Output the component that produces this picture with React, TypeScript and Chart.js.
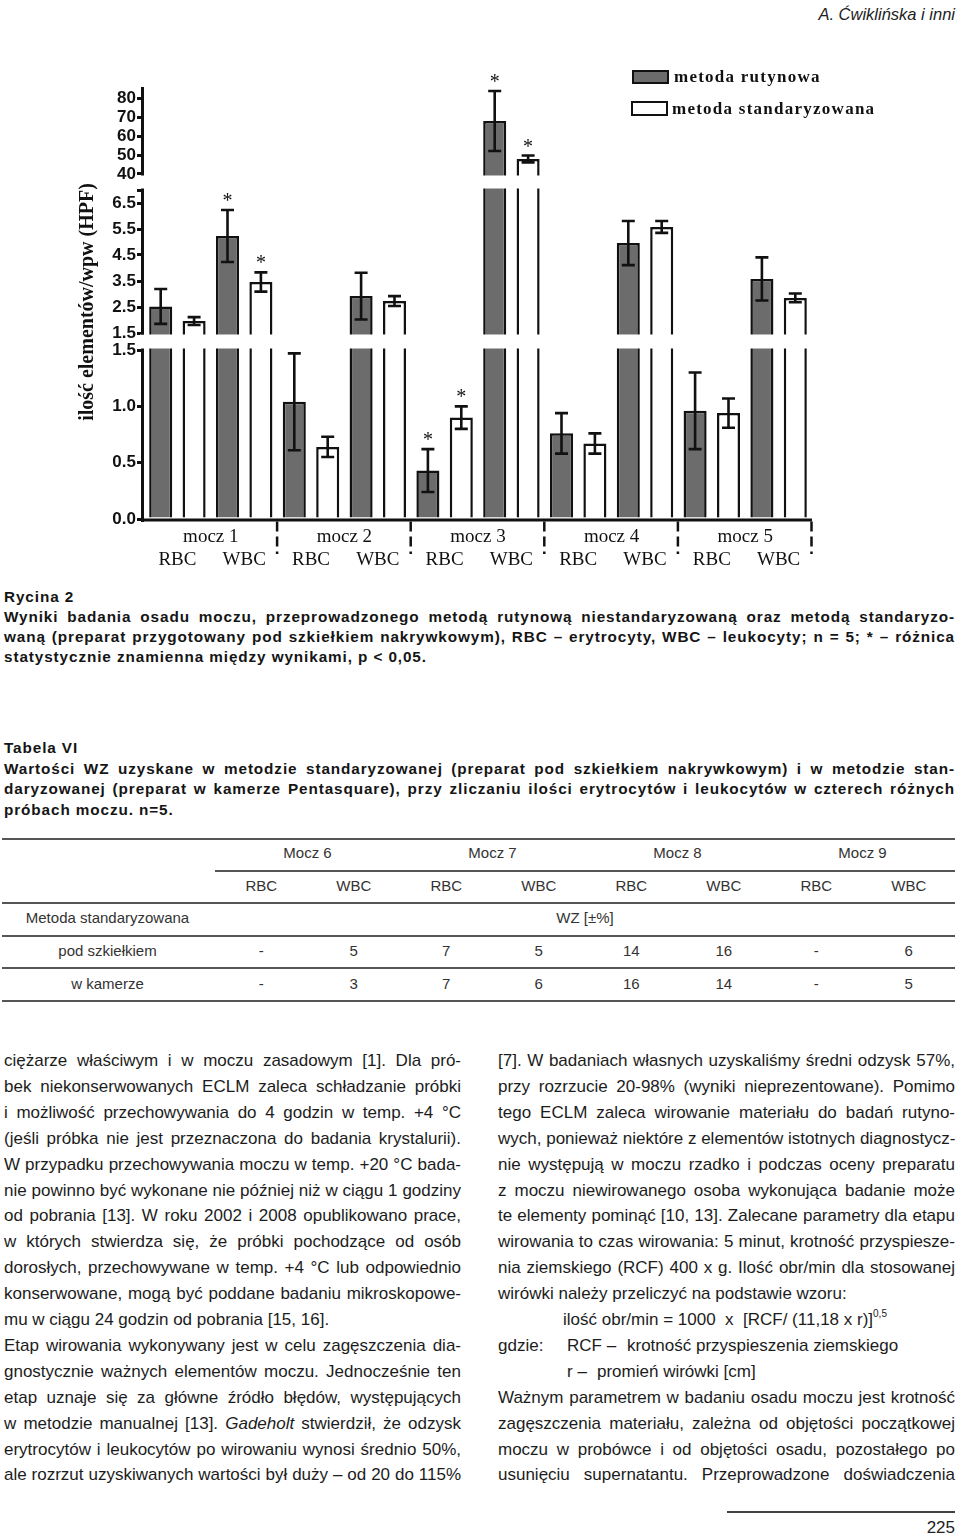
import React, { useEffect, useRef } from 'react';
import { Chart, registerables } from 'chart.js';

Chart.register(...registerables);

// ---------------- chart data ----------------
const SAMPLES = ['mocz 1', 'mocz 2', 'mocz 3', 'mocz 4', 'mocz 5'];
const CELL_TYPES = ['RBC', 'WBC', 'RBC', 'WBC', 'RBC', 'WBC', 'RBC', 'WBC', 'RBC', 'WBC'];
const SERIES_NAMES = ['metoda rutynowa', 'metoda standaryzowana'];
const ROUTINE_MEAN = [2.52, 5.23, 1.04, 2.92, 0.43, 67.9, 0.76, 4.96, 0.96, 3.58];
const ROUTINE_ERR = [0.67, 1.0, 0.43, 0.9, 0.19, 15.8, 0.18, 0.85, 0.34, 0.83];
const STANDARD_MEAN = [1.96, 3.46, 0.64, 2.73, 0.9, 47.9, 0.67, 5.58, 0.94, 2.85];
const STANDARD_ERR = [0.15, 0.37, 0.09, 0.19, 0.1, 1.8, 0.09, 0.23, 0.13, 0.17];
const ROUTINE_SIGNIFICANT = [false, true, false, false, true, true, false, false, false, false];
const STANDARD_SIGNIFICANT = [false, true, false, false, true, true, false, false, false, false];
const Y_SEGMENTS = [[0, 1.5], [1.5, 7], [40, 85.8]];
const Y_TICKS = [[0, 0.5, 1, 1.5], [1.5, 2.5, 3.5, 4.5, 5.5, 6.5, 7], [40, 50, 60, 70, 80]];
const Y_TICK_LABELS = [
  ['0.0', '0.5', '1.0', '1.5'],
  ['1.5', '2.5', '3.5', '4.5', '5.5', '6.5', ''],
  ['40', '50', '60', '70', '80'],
];
const Y_TITLE = 'ilość elementów/wpw (HPF)';
const SIGNIFICANCE_MARK = '*';

// ---------------- table data ----------------
const TABLE_SAMPLES = ['Mocz 6', 'Mocz 7', 'Mocz 8', 'Mocz 9'];
const TABLE_CELL_TYPES = ['RBC', 'WBC'];
const TABLE_METHOD_LABEL = 'Metoda standaryzowana';
const TABLE_UNIT_LABEL = 'WZ [±%]';
const TABLE_ROW_LABELS = ['pod szkiełkiem', 'w kamerze'];
const TABLE_VALUES = [
  ['-', '5', '7', '5', '14', '16', '-', '6'],
  ['-', '3', '7', '6', '16', '14', '-', '5'],
];

// ---------------- text ----------------
const HEADER = 'A. Ćwiklińska i inni';
const FIGURE_TITLE = 'Rycina 2';
const FIGURE_LINES: [string, boolean][] = [
  ['Wyniki badania osadu moczu, przeprowadzonego metodą rutynową niestandaryzowaną oraz metodą standaryzo-', true],
  ['waną (preparat przygotowany pod szkiełkiem nakrywkowym), RBC – erytrocyty, WBC – leukocyty; n = 5; * – różnica', true],
  ['statystycznie znamienna między wynikami, p < 0,05.', false],
];
const TABLE_TITLE = 'Tabela VI';
const TABLE_LINES: [string, boolean][] = [
  ['Wartości WZ uzyskane w metodzie standaryzowanej (preparat pod szkiełkiem nakrywkowym) i w metodzie stan-', true],
  ['daryzowanej (preparat w kamerze Pentasquare), przy zliczaniu ilości erytrocytów i leukocytów w czterech różnych', true],
  ['próbach moczu. n=5.', false],
];
const LEFT_COLUMN: [string, boolean][] = [
  ['ciężarze właściwym i w moczu zasadowym [1]. Dla pró-', true],
  ['bek niekonserwowanych ECLM zaleca schładzanie próbki', true],
  ['i możliwość przechowywania do 4 godzin w temp. +4 °C', true],
  ['(jeśli próbka nie jest przeznaczona do badania krystalurii).', true],
  ['W przypadku przechowywania moczu w temp. +20 °C bada-', true],
  ['nie powinno być wykonane nie później niż w ciągu 1 godziny', true],
  ['od pobrania [13]. W roku 2002 i 2008 opublikowano prace,', true],
  ['w których stwierdza się, że próbki pochodzące od osób', true],
  ['dorosłych, przechowywane w temp. +4 °C lub odpowiednio', true],
  ['konserwowane, mogą być poddane badaniu mikroskopowe-', true],
  ['mu w ciągu 24 godzin od pobrania [15, 16].', false],
  ['Etap wirowania wykonywany jest w celu zagęszczenia dia-', true],
  ['gnostycznie ważnych elementów moczu. Jednocześnie ten', true],
  ['etap uznaje się za główne źródło błędów, występujących', true],
  ['w metodzie manualnej [13]. _Gadeholt_ stwierdził, że odzysk', true],
  ['erytrocytów i leukocytów po wirowaniu wynosi średnio 50%,', true],
  ['ale rozrzut uzyskiwanych wartości był duży – od 20 do 115%', true],
];
const RIGHT_COLUMN_TOP: [string, boolean][] = [
  ['[7]. W badaniach własnych uzyskaliśmy średni odzysk 57%,', true],
  ['przy rozrzucie 20-98% (wyniki nieprezentowane). Pomimo', true],
  ['tego ECLM zaleca wirowanie materiału do badań rutyno-', true],
  ['wych, ponieważ niektóre z elementów istotnych diagnostycz-', true],
  ['nie występują w moczu rzadko i podczas oceny preparatu', true],
  ['z moczu niewirowanego osoba wykonująca badanie może', true],
  ['te elementy pominąć [10, 13]. Zalecane parametry dla etapu', true],
  ['wirowania to czas wirowania: 5 minut, krotność przyspiesze-', true],
  ['nia ziemskiego (RCF) 400 x g. Ilość obr/min dla stosowanej', true],
  ['wirówki należy przeliczyć na podstawie wzoru:', false],
];
const FORMULA = 'ilość obr/min = 1000  x  [RCF/ (11,18 x r)]';
const FORMULA_EXP = '0,5';
const WHERE_LABEL = 'gdzie:';
const WHERE_ITEMS: [string, string][] = [
  ['RCF –', 'krotność przyspieszenia ziemskiego'],
  ['r –', 'promień wirówki [cm]'],
];
const RIGHT_COLUMN_BOTTOM: [string, boolean][] = [
  ['Ważnym parametrem w badaniu osadu moczu jest krotność', true],
  ['zagęszczenia materiału, zależna od objętości początkowej', true],
  ['moczu w probówce i od objętości osadu, pozostałego po', true],
  ['usunięciu supernatantu. Przeprowadzone doświadczenia', true],
];
const PAGE_NUMBER = '225';

// ---------------- layout (pixels) ----------------
const SANS = '"Liberation Sans", Arial, Helvetica, sans-serif';
const SERIF = '"Liberation Serif", "Times New Roman", serif';
const SEGMENT_SPANS = [[0, 169], [186, 329], [345, 432]];
const AXIS_MAX = 432;

const toAxis = (v: number, seg?: number) => {
  let i = seg;
  if (i === undefined) {
    i = Y_SEGMENTS.findIndex(([, hi]) => v <= hi);
    if (i < 0) i = Y_SEGMENTS.length - 1;
  }
  const [lo, hi] = Y_SEGMENTS[i];
  const [a, b] = SEGMENT_SPANS[i];
  return a + ((v - lo) / (hi - lo)) * (b - a);
};
const Y_TICK_POS = Y_TICKS.flatMap((ts, i) => ts.map((t) => toAxis(t, i)));
const Y_TICK_TEXT = Y_TICK_LABELS.flat();

const overlayPlugin = {
  id: 'brokenAxisOverlay',
  afterDatasetsDraw(chart: any) {
    const { ctx, chartArea, scales } = chart;
    const { left, right, bottom } = chartArea;
    const y = scales.y;
    ctx.save();
    // breaks in the axis and bars
    ctx.fillStyle = '#ffffff';
    for (let i = 0; i < SEGMENT_SPANS.length - 1; i++) {
      const yLow = y.getPixelForValue(SEGMENT_SPANS[i][1]);
      const yHigh = y.getPixelForValue(SEGMENT_SPANS[i + 1][0]);
      ctx.fillRect(left - 4, yHigh + 1.5, right - left + 8, yLow - yHigh - 3);
    }
    // y axis segments
    ctx.strokeStyle = '#111';
    ctx.lineWidth = 3;
    ctx.lineCap = 'butt';
    const ax = left - 1.5;
    SEGMENT_SPANS.forEach(([a, b]) => {
      ctx.beginPath();
      ctx.moveTo(ax, y.getPixelForValue(a) + (a === 0 ? 3 : 1.5));
      ctx.lineTo(ax, y.getPixelForValue(b) - (b === AXIS_MAX ? 0 : 1.5));
      ctx.stroke();
    });
    // x axis
    ctx.beginPath();
    ctx.moveTo(left - 3, bottom + 1);
    ctx.lineTo(right, bottom + 1);
    ctx.stroke();
    // error bars + significance
    const series = [
      { mean: ROUTINE_MEAN, err: ROUTINE_ERR, sig: ROUTINE_SIGNIFICANT },
      { mean: STANDARD_MEAN, err: STANDARD_ERR, sig: STANDARD_SIGNIFICANT },
    ];
    series.forEach((s, di) => {
      const meta = chart.getDatasetMeta(di);
      meta.data.forEach((bar: any, i: number) => {
        const cx = bar.x;
        const yHi = y.getPixelForValue(toAxis(s.mean[i] + s.err[i]));
        const yLo = y.getPixelForValue(toAxis(s.mean[i] - s.err[i]));
        ctx.strokeStyle = '#111';
        ctx.lineWidth = 2.6;
        ctx.beginPath();
        ctx.moveTo(cx, yHi);
        ctx.lineTo(cx, yLo);
        ctx.moveTo(cx - 6.5, yHi);
        ctx.lineTo(cx + 6.5, yHi);
        ctx.moveTo(cx - 6.5, yLo);
        ctx.lineTo(cx + 6.5, yLo);
        ctx.stroke();
        if (s.sig[i]) {
          ctx.fillStyle = '#111';
          ctx.font = `20px ${SERIF}`;
          ctx.textAlign = 'center';
          ctx.textBaseline = 'alphabetic';
          ctx.fillText(SIGNIFICANCE_MARK, cx, yHi - 3);
        }
      });
    });
    // dashed group separators
    const catW = (right - left) / CELL_TYPES.length;
    const perGroup = CELL_TYPES.length / SAMPLES.length;
    ctx.setLineDash([10, 5]);
    ctx.lineWidth = 2.5;
    for (let k = 1; k <= SAMPLES.length; k++) {
      const sx = left + k * perGroup * catW - 0.5;
      ctx.beginPath();
      ctx.moveTo(sx, bottom + 2.5);
      ctx.lineTo(sx, bottom + 35);
      ctx.stroke();
    }
    ctx.setLineDash([]);
    // y axis title
    ctx.translate(93, 302);
    ctx.rotate(-Math.PI / 2);
    ctx.fillStyle = '#111';
    ctx.font = `bold 20px ${SERIF}`;
    ctx.textAlign = 'center';
    ctx.textBaseline = 'alphabetic';
    ctx.fillText(Y_TITLE, 0, 0);
    ctx.restore();
  },
};

function BarChart() {
  const ref = useRef<HTMLCanvasElement>(null);
  useEffect(() => {
    const chart = new Chart(ref.current as HTMLCanvasElement, {
      type: 'bar',
      data: {
        labels: CELL_TYPES,
        datasets: [
          {
            label: SERIES_NAMES[0],
            data: ROUTINE_MEAN.map((v) => toAxis(v)),
            backgroundColor: '#6c6c6c',
            borderColor: '#111',
            borderWidth: 2.5,
            borderSkipped: 'start',
            categoryPercentage: 1,
            barPercentage: 0.69,
          },
          {
            label: SERIES_NAMES[1],
            data: STANDARD_MEAN.map((v) => toAxis(v)),
            backgroundColor: '#ffffff',
            borderColor: '#111',
            borderWidth: 2.5,
            borderSkipped: 'start',
            categoryPercentage: 1,
            barPercentage: 0.69,
          },
        ],
      },
      options: {
        responsive: false,
        animation: false,
        events: [],
        layout: { padding: { left: 0, right: 148, top: 87, bottom: 0 } },
        plugins: { legend: { display: false }, tooltip: { enabled: false } },
        scales: {
          x: {
            type: 'category',
            position: 'bottom',
            weight: 1,
            grid: { display: false, drawTicks: false },
            border: { display: false },
            ticks: {
              autoSkip: false,
              maxRotation: 0,
              padding: 1,
              color: '#111',
              font: { family: SERIF, size: 19 },
            },
            afterFit: (s: any) => {
              s.height = 32;
            },
          },
          x2: {
            type: 'category',
            labels: SAMPLES,
            position: 'bottom',
            offset: true,
            weight: 0,
            grid: { display: false, drawTicks: false },
            border: { display: false },
            ticks: {
              autoSkip: false,
              maxRotation: 0,
              padding: 7,
              color: '#111',
              font: { family: SERIF, size: 19 },
            },
            afterFit: (s: any) => {
              s.height = 29;
            },
          },
          y: {
            type: 'linear',
            position: 'left',
            min: 0,
            max: AXIS_MAX,
            afterFit: (s: any) => {
              s.width = 144;
            },
            afterBuildTicks: (s: any) => {
              s.ticks = Y_TICK_POS.map((v) => ({ value: v }));
            },
            grid: {
              display: true,
              drawOnChartArea: false,
              drawTicks: true,
              tickLength: 7,
              lineWidth: 3,
              color: '#111',
            },
            border: { display: false },
            ticks: {
              autoSkip: false,
              padding: 1,
              color: '#111',
              font: { family: SANS, size: 17, weight: 'bold' },
              callback: (_v: any, i: number) => Y_TICK_TEXT[i],
            },
          },
        },
      },
      plugins: [overlayPlugin],
    } as any);
    return () => chart.destroy();
  }, []);
  return (
    <canvas
      ref={ref}
      width={960}
      height={580}
      style={{ position: 'absolute', left: 0, top: 0, width: 960, height: 580 }}
    />
  );
}

function Line(props: {
  x: number;
  cy: number;
  w?: number;
  justify?: boolean;
  align?: 'left' | 'center' | 'right';
  style?: React.CSSProperties;
  children: React.ReactNode;
}) {
  const { x, cy, w, justify, align, style, children } = props;
  const a = justify ? 'justify' : align || 'left';
  return (
    <div
      style={{
        position: 'absolute',
        left: x,
        top: cy - 10,
        width: w,
        height: 20,
        lineHeight: '20px',
        whiteSpace: 'nowrap',
        textAlign: a,
        textAlignLast: a,
        ...style,
      } as React.CSSProperties}
    >
      {children}
    </div>
  );
}

const renderItalic = (text: string) =>
  text.split('_').map((part, i) => (i % 2 === 1 ? <i key={i}>{part}</i> : <span key={i}>{part}</span>));

export default function App() {
  const capStyle: React.CSSProperties = {
    fontFamily: SANS,
    fontWeight: 'bold',
    fontSize: 15.3,
    letterSpacing: '0.9px',
    color: '#151515',
  };
  const bodyStyle: React.CSSProperties = { fontFamily: SANS, fontSize: 17, color: '#1c1c1c' };
  const tableStyle: React.CSSProperties = { fontFamily: SANS, fontSize: 15, color: '#333' };
  const lineY = (i: number) => 1061 + i * 25.9;
  const colX = (j: number) => 215 + j * 92.5;
  const rule = (y: number, x1: number, x2: number, h = 1.6) => (
    <div key={`r${y}`} style={{ position: 'absolute', left: x1, top: y, width: x2 - x1, height: h, background: '#555' }} />
  );
  const legendText: React.CSSProperties = {
    position: 'absolute',
    fontFamily: SERIF,
    fontWeight: 'bold',
    fontSize: 17,
    letterSpacing: '1.25px',
    lineHeight: '20px',
    color: '#111',
    whiteSpace: 'nowrap',
  };
  return (
    <div
      style={{
        position: 'absolute',
        left: 0,
        top: 0,
        width: 960,
        height: 1536,
        background: '#fff',
        overflow: 'hidden',
      }}
    >
      <div
        style={{
          position: 'absolute',
          right: 5,
          top: 4,
          fontFamily: SANS,
          fontStyle: 'italic',
          fontSize: 16.5,
          lineHeight: '20px',
          color: '#222',
        }}
      >
        {HEADER}
      </div>

      <BarChart />

      {/* legend */}
      <div style={{ position: 'absolute', left: 632, top: 70, width: 37, height: 14, background: '#6c6c6c', border: '2.5px solid #111', boxSizing: 'border-box' }} />
      <div style={{ ...legendText, left: 674, top: 67 }}>{SERIES_NAMES[0]}</div>
      <div style={{ position: 'absolute', left: 631, top: 101, width: 37, height: 15, background: '#fff', border: '2.5px solid #111', boxSizing: 'border-box' }} />
      <div style={{ ...legendText, left: 672, top: 99 }}>{SERIES_NAMES[1]}</div>

      {/* figure caption */}
      <Line x={4} cy={597} style={capStyle}>{FIGURE_TITLE}</Line>
      {FIGURE_LINES.map(([t, j], i) => (
        <Line key={`f${i}`} x={4} cy={617 + i * 20} w={951} justify={j} style={capStyle}>
          {t}
        </Line>
      ))}

      {/* table caption */}
      <Line x={4} cy={748} style={capStyle}>{TABLE_TITLE}</Line>
      {TABLE_LINES.map(([t, j], i) => (
        <Line key={`t${i}`} x={4} cy={768.5 + i * 20.7} w={951} justify={j} style={capStyle}>
          {t}
        </Line>
      ))}

      {/* table */}
      {rule(838, 2, 955, 2)}
      {rule(870, 215, 955)}
      {rule(902, 2, 955)}
      {rule(935, 2, 955)}
      {rule(967, 2, 955)}
      {rule(1000, 2, 955, 2)}
      {TABLE_SAMPLES.map((s, k) => (
        <Line key={`ts${k}`} x={colX(2 * k)} cy={853} w={185} align="center" style={tableStyle}>
          {s}
        </Line>
      ))}
      {TABLE_SAMPLES.flatMap((_, k) =>
        TABLE_CELL_TYPES.map((c, m) => (
          <Line key={`tc${k}${m}`} x={colX(2 * k + m)} cy={886} w={92.5} align="center" style={tableStyle}>
            {c}
          </Line>
        )),
      )}
      <Line x={0} cy={918} w={215} align="center" style={tableStyle}>{TABLE_METHOD_LABEL}</Line>
      <Line x={215} cy={918} w={740} align="center" style={tableStyle}>{TABLE_UNIT_LABEL}</Line>
      {TABLE_ROW_LABELS.map((label, r) => (
        <React.Fragment key={`tr${r}`}>
          <Line x={0} cy={951 + r * 33} w={215} align="center" style={tableStyle}>{label}</Line>
          {TABLE_VALUES[r].map((v, j) => (
            <Line key={`tv${r}${j}`} x={colX(j)} cy={951 + r * 33} w={92.5} align="center" style={tableStyle}>
              {v}
            </Line>
          ))}
        </React.Fragment>
      ))}

      {/* left column */}
      {LEFT_COLUMN.map(([t, j], i) => (
        <Line key={`l${i}`} x={4} cy={lineY(i)} w={457} justify={j} style={bodyStyle}>
          {renderItalic(t)}
        </Line>
      ))}

      {/* right column */}
      {RIGHT_COLUMN_TOP.map(([t, j], i) => (
        <Line key={`rt${i}`} x={498} cy={lineY(i)} w={457} justify={j} style={bodyStyle}>
          {t}
        </Line>
      ))}
      <Line x={563} cy={lineY(10)} style={{ ...bodyStyle, whiteSpace: 'pre' }}>
        {FORMULA}
        <sup style={{ fontSize: 10, verticalAlign: 'top', lineHeight: '12px', position: 'relative', top: -2 }}>{FORMULA_EXP}</sup>
      </Line>
      <Line x={498} cy={lineY(11)} style={bodyStyle}>{WHERE_LABEL}</Line>
      {WHERE_ITEMS.map(([a, b], i) => (
        <React.Fragment key={`w${i}`}>
          <Line x={567} cy={lineY(11 + i)} style={bodyStyle}>{a}</Line>
          <Line x={i === 0 ? 627 : 597} cy={lineY(11 + i)} style={bodyStyle}>{b}</Line>
        </React.Fragment>
      ))}
      {RIGHT_COLUMN_BOTTOM.map(([t, j], i) => (
        <Line key={`rb${i}`} x={498} cy={lineY(13 + i)} w={457} justify={j} style={bodyStyle}>
          {t}
        </Line>
      ))}

      {/* footer */}
      <div style={{ position: 'absolute', left: 727, top: 1511, width: 228, height: 1.5, background: '#444' }} />
      <div style={{ position: 'absolute', right: 5, top: 1518, lineHeight: '20px', fontFamily: SANS, fontSize: 17, color: '#222' }}>
        {PAGE_NUMBER}
      </div>
    </div>
  );
}
